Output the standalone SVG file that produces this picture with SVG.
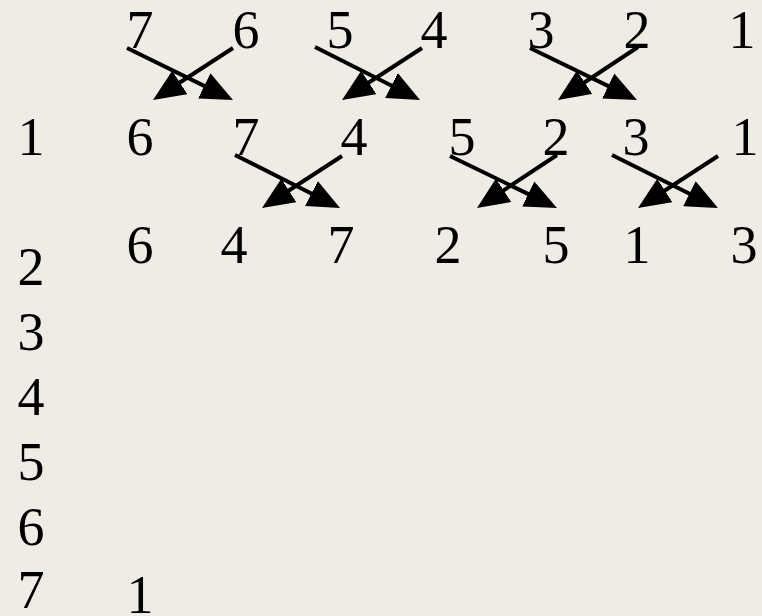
<svg xmlns="http://www.w3.org/2000/svg" width="762" height="616" viewBox="0 0 762 616">
<style>
.c line{stroke:#000;stroke-width:4;marker-end:url(#ah)}
</style>
<defs>
<marker id="ah" markerUnits="userSpaceOnUse" markerWidth="32" markerHeight="28" refX="22" refY="14" orient="auto" viewBox="0 0 32 28">
<path d="M0,0 L32,14 L0,28 z" fill="#000"/>
</marker>
</defs>
<rect width="762" height="616" fill="#EFECE5"/>
<g font-family="Liberation Serif, Times New Roman, serif" font-size="54" fill="#000" text-anchor="middle">
<g id="row1">
<g id="r1c1"><text x="140" y="48">7</text></g>
<g id="r1c2"><text x="246" y="48">6</text></g>
<g id="r1c3"><text x="340" y="48">5</text></g>
<g id="r1c4"><text x="434" y="48">4</text></g>
<g id="r1c5"><text x="541" y="48">3</text></g>
<g id="r1c6"><text x="637" y="48">2</text></g>
<g id="r1c7"><text x="742" y="48">1</text></g>
</g>
<g id="row2">
<g id="r2c1"><text x="140" y="155">6</text></g>
<g id="r2c2"><text x="246" y="155">7</text></g>
<g id="r2c3"><text x="354" y="155">4</text></g>
<g id="r2c4"><text x="462" y="155">5</text></g>
<g id="r2c5"><text x="556" y="155">2</text></g>
<g id="r2c6"><text x="636" y="155">3</text></g>
<g id="r2c7"><text x="745" y="155">1</text></g>
</g>
<g id="row3">
<g id="r3c1"><text x="140" y="263">6</text></g>
<g id="r3c2"><text x="234" y="263">4</text></g>
<g id="r3c3"><text x="341" y="263">7</text></g>
<g id="r3c4"><text x="448" y="263">2</text></g>
<g id="r3c5"><text x="556" y="263">5</text></g>
<g id="r3c6"><text x="637" y="263">1</text></g>
<g id="r3c7"><text x="744" y="263">3</text></g>
</g>
<g id="left">
<g id="l1"><text x="31" y="155">1</text></g>
<g id="l2"><text x="31" y="285">2</text></g>
<g id="l3"><text x="31" y="350">3</text></g>
<g id="l4"><text x="31" y="415">4</text></g>
<g id="l5"><text x="31" y="480">5</text></g>
<g id="l6"><text x="31" y="545">6</text></g>
<g id="l7"><text x="31" y="608">7</text></g>
</g>
<g id="bottom"><text x="140" y="613">1</text></g>
</g>
<g id="connectors" class="c">
<line x1="127" y1="48" x2="224" y2="95.6"/>
<line x1="233" y1="48" x2="161.4" y2="94.5"/>
<line x1="315" y1="47" x2="411.1" y2="95.5"/>
<line x1="422" y1="48" x2="350.4" y2="94.5"/>
<line x1="530" y1="48" x2="628" y2="95.6"/>
<line x1="638" y1="47" x2="566.3" y2="94.5"/>
<line x1="235" y1="155" x2="331.1" y2="203.5"/>
<line x1="342" y1="156" x2="270.4" y2="202.5"/>
<line x1="450" y1="156" x2="548" y2="203.6"/>
<line x1="557" y1="155" x2="485.3" y2="202.5"/>
<line x1="612" y1="155" x2="709.1" y2="203.5"/>
<line x1="718" y1="156" x2="646.4" y2="202.5"/>
</g>
</svg>
